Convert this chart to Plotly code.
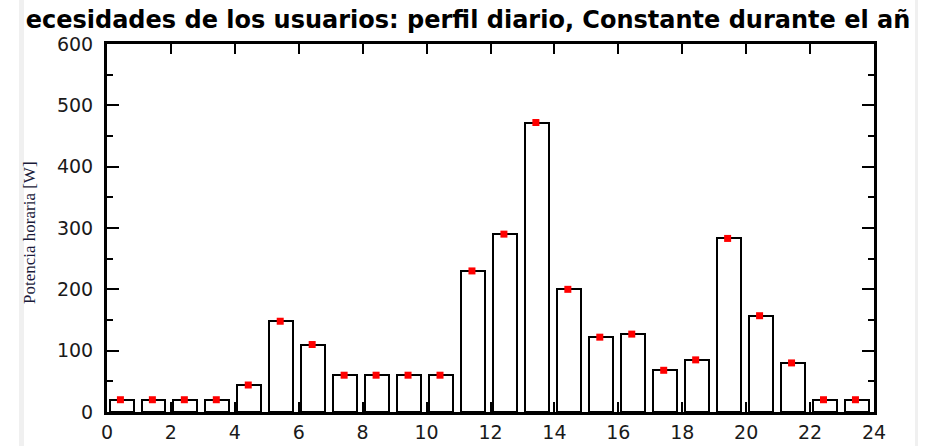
import plotly.graph_objects as go

# Hourly demand profile (W), one value per hour of the day
hours = list(range(24))
power_w = [20, 20, 20, 20, 44, 148, 110, 60, 60, 60, 60, 230,
           290, 472, 200, 122, 127, 68, 85, 283, 157, 80, 20, 20]

title_text = "ecesidades de los usuarios: perfil diario, Constante durante el añ"
y_title = "Potencia horaria [W]"
x_ticks = list(range(0, 25, 2))
y_ticks = list(range(0, 601, 100))

W, H = 925, 446
ML, MR, MT, MB = 107, 51, 44, 34
PW, PH = W - ML - MR, H - MT - MB


def px_to_paper_x(px):
    return (px - ML) / PW


def px_to_paper_y(py):
    return (H - MB - py) / PH


TICK_FONT = dict(family="DejaVu Sans, Liberation Sans, sans-serif", size=19, color="#1a1a1a")

fig = go.Figure()

fig.add_trace(go.Bar(
    x=[h + 0.455 for h in hours],
    y=power_w,
    width=0.75,
    marker=dict(color="white", line=dict(color="black", width=2)),
    showlegend=False,
    hoverinfo="skip",
))

fig.add_trace(go.Scatter(
    x=[h + 0.42 for h in hours],
    y=power_w,
    mode="markers",
    marker=dict(color="#ff0000", symbol="square", size=7, line=dict(width=0)),
    showlegend=False,
    cliponaxis=False,
))

axis_common = dict(
    showline=True, linecolor="black", linewidth=3, mirror="ticks",
    ticks="inside", tickcolor="black", showgrid=False, zeroline=False,
    tickfont=TICK_FONT, automargin=False,
)

fig.update_xaxes(
    range=[0, 24], tickvals=x_ticks, ticktext=[str(t) for t in x_ticks],
    ticklen=10, tickwidth=2, ticklabelstandoff=1, **axis_common,
)
fig.update_yaxes(
    range=[0, 600], tickvals=y_ticks, ticktext=[str(t) for t in y_ticks],
    ticklen=12, tickwidth=2, ticklabelstandoff=7,
    minor=dict(dtick=50, ticklen=6, tickwidth=2, tickcolor="black", ticks="inside"),
    **axis_common,
)

# Rotated y-axis caption
fig.add_annotation(
    text=y_title, textangle=-90, showarrow=False,
    xref="paper", yref="paper",
    x=px_to_paper_x(29), y=px_to_paper_y(233),
    xanchor="center", yanchor="middle",
    font=dict(family="Liberation Serif, serif", size=17, color="#1a1a3a"),
)

# Thin light-grey strips at the left and right page edges
for x0, x1, col in [(19, 24, "#f0f0f0"), (915, 918, "#f0f0f0")]:
    fig.add_shape(type="rect", xref="paper", yref="paper",
                  x0=px_to_paper_x(x0), x1=px_to_paper_x(x1),
                  y0=px_to_paper_y(H), y1=px_to_paper_y(0),
                  fillcolor=col, line=dict(width=0), layer="below")

fig.update_layout(
    width=W, height=H,
    margin=dict(l=ML, r=MR, t=MT, b=MB),
    paper_bgcolor="white", plot_bgcolor="white",
    bargap=0,
    title=dict(text=title_text, x=468 / W, xref="container", xanchor="center",
               y=1 - 20 / H, yanchor="middle", automargin=False,
               font=dict(family="DejaVu Sans, Liberation Sans, sans-serif", size=24,
                         color="black", weight="bold")),
)

fig.write_html("out.html")
